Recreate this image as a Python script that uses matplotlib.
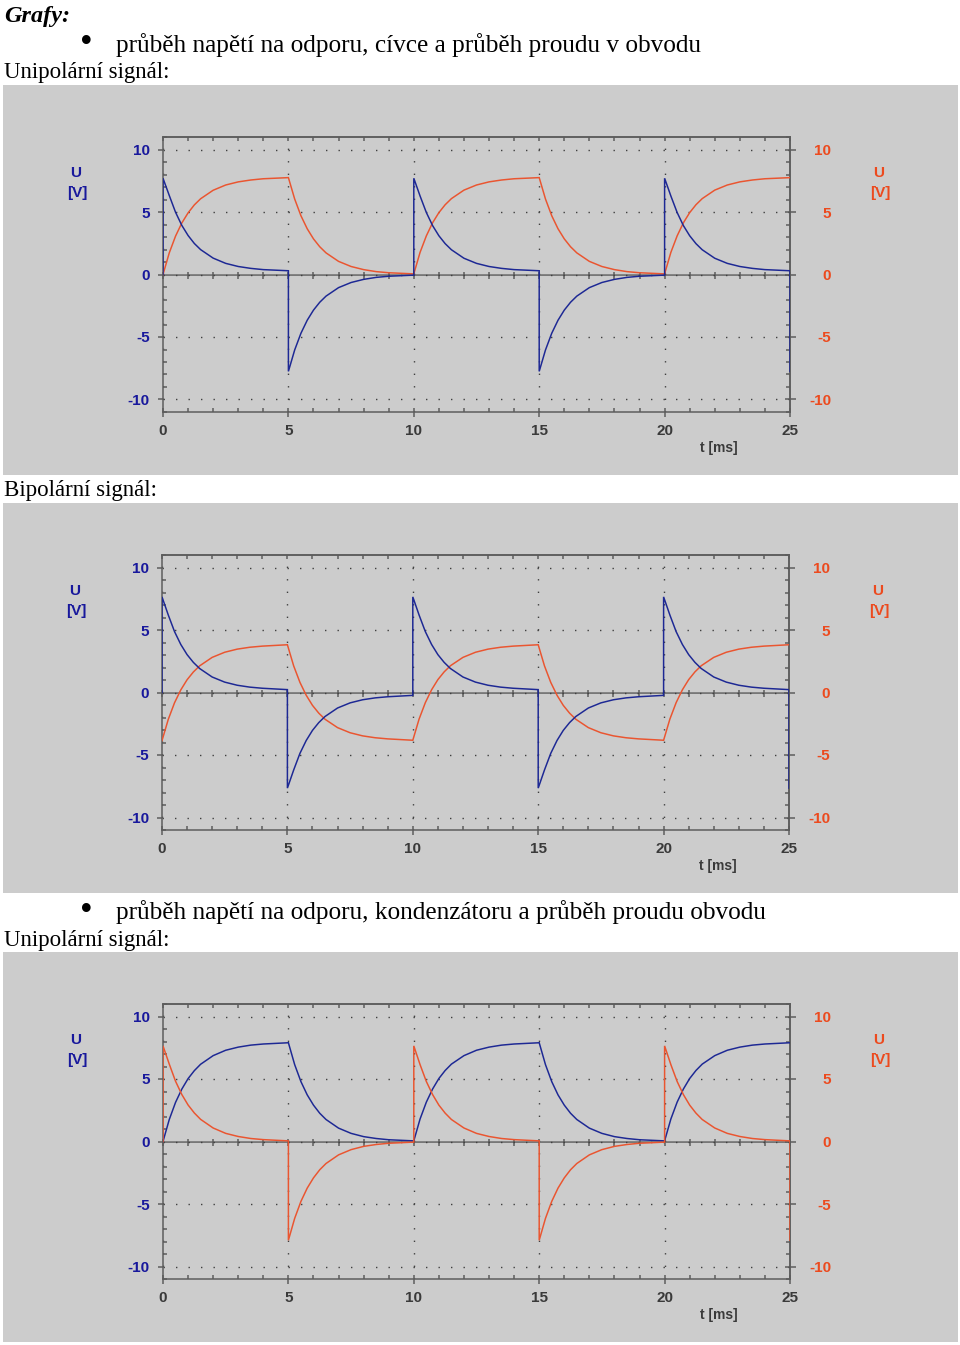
import matplotlib
matplotlib.use('Agg')
import matplotlib.pyplot as plt
from matplotlib.patches import Rectangle
from matplotlib.ticker import MultipleLocator

W, H, DPI = 960, 1345, 100
PT = 72.0 / DPI  # points per pixel

# ---------------- data ----------------
t_ms = [0,
        0, 0.25, 0.5, 0.75, 1, 1.25, 1.5, 2, 2.5, 3, 3.5, 4, 5,
        5, 5.25, 5.5, 5.75, 6, 6.25, 6.5, 7, 7.5, 8, 8.5, 9, 10,
        10, 10.25, 10.5, 10.75, 11, 11.25, 11.5, 12, 12.5, 13, 13.5, 14, 15,
        15, 15.25, 15.5, 15.75, 16, 16.25, 16.5, 17, 17.5, 18, 18.5, 19, 20,
        20, 20.25, 20.5, 20.75, 21, 21.25, 21.5, 22, 22.5, 23, 23.5, 24, 25,
        25]

# RL circuit, unipolar signal
rl_uni_resistor = [0.00,
                   0.00, 1.73, 3.07, 4.12, 4.93, 5.57, 6.06, 6.74, 7.16, 7.41, 7.56, 7.66, 7.75,
                   7.75, 6.04, 4.70, 3.66, 2.85, 2.22, 1.73, 1.05, 0.64, 0.39, 0.23, 0.14, 0.05,
                   0.05, 1.77, 3.09, 4.14, 4.95, 5.58, 6.07, 6.75, 7.16, 7.41, 7.56, 7.66, 7.75,
                   7.75, 6.04, 4.70, 3.66, 2.85, 2.22, 1.73, 1.05, 0.64, 0.39, 0.23, 0.14, 0.05,
                   0.05, 1.77, 3.09, 4.14, 4.95, 5.58, 6.07, 6.75, 7.16, 7.41, 7.56, 7.66, 7.75,
                   7.75]
rl_uni_coil = [0.00,
               7.70, 6.32, 4.98, 3.93, 3.12, 2.48, 1.99, 1.31, 0.89, 0.64, 0.49, 0.39, 0.30,
               -7.75, -6.04, -4.70, -3.66, -2.85, -2.22, -1.73, -1.05, -0.64, -0.39, -0.23, -0.14, -0.05,
               7.70, 6.28, 4.96, 3.91, 3.10, 2.47, 1.98, 1.30, 0.89, 0.64, 0.49, 0.39, 0.30,
               -7.75, -6.04, -4.70, -3.66, -2.85, -2.22, -1.73, -1.05, -0.64, -0.39, -0.23, -0.14, -0.05,
               7.70, 6.28, 4.96, 3.91, 3.10, 2.47, 1.98, 1.30, 0.89, 0.64, 0.49, 0.39, 0.30,
               -7.75]

# RL circuit, bipolar signal
rl_bi_resistor = [-3.85,
                  -3.85, -2.15, -0.82, 0.21, 1.02, 1.64, 2.13, 2.81, 3.22, 3.47, 3.62, 3.71, 3.82,
                  3.82, 2.13, 0.81, -0.22, -1.03, -1.65, -2.14, -2.81, -3.22, -3.47, -3.62, -3.71, -3.82,
                  -3.82, -2.13, -0.81, 0.22, 1.03, 1.65, 2.14, 2.81, 3.22, 3.47, 3.62, 3.71, 3.82,
                  3.82, 2.13, 0.81, -0.22, -1.03, -1.65, -2.14, -2.81, -3.22, -3.47, -3.62, -3.71, -3.82,
                  -3.82, -2.13, -0.81, 0.22, 1.03, 1.65, 2.14, 2.81, 3.22, 3.47, 3.62, 3.71, 3.82,
                  3.82]
rl_bi_coil = [0.00,
              7.65, 6.20, 4.87, 3.84, 3.03, 2.41, 1.92, 1.24, 0.83, 0.58, 0.43, 0.34, 0.23,
              -7.65, -6.20, -4.87, -3.84, -3.03, -2.41, -1.92, -1.24, -0.83, -0.58, -0.43, -0.34, -0.23,
              7.65, 6.20, 4.87, 3.84, 3.03, 2.41, 1.92, 1.24, 0.83, 0.58, 0.43, 0.34, 0.23,
              -7.65, -6.20, -4.87, -3.84, -3.03, -2.41, -1.92, -1.24, -0.83, -0.58, -0.43, -0.34, -0.23,
              7.65, 6.20, 4.87, 3.84, 3.03, 2.41, 1.92, 1.24, 0.83, 0.58, 0.43, 0.34, 0.23,
              -7.65]

# RC circuit, unipolar signal
rc_uni_capacitor = [0.00,
                    0.00, 1.76, 3.13, 4.19, 5.03, 5.67, 6.18, 6.87, 7.30, 7.55, 7.71, 7.80, 7.90,
                    7.90, 6.15, 4.79, 3.73, 2.91, 2.26, 1.76, 1.07, 0.65, 0.39, 0.24, 0.14, 0.05,
                    0.05, 1.80, 3.15, 4.20, 5.04, 5.68, 6.19, 6.87, 7.30, 7.55, 7.71, 7.80, 7.90,
                    7.90, 6.15, 4.79, 3.73, 2.91, 2.26, 1.76, 1.07, 0.65, 0.39, 0.24, 0.14, 0.05,
                    0.05, 1.80, 3.15, 4.20, 5.04, 5.68, 6.19, 6.87, 7.30, 7.55, 7.71, 7.80, 7.90,
                    7.90]
rc_uni_resistor = [0.00,
                   7.65, 6.19, 4.82, 3.76, 2.92, 2.28, 1.77, 1.08, 0.65, 0.40, 0.24, 0.15, 0.05,
                   -7.90, -6.15, -4.79, -3.73, -2.91, -2.26, -1.76, -1.07, -0.65, -0.39, -0.24, -0.14, -0.05,
                   7.65, 6.15, 4.80, 3.75, 2.91, 2.27, 1.76, 1.08, 0.65, 0.40, 0.24, 0.15, 0.05,
                   -7.90, -6.15, -4.79, -3.73, -2.91, -2.26, -1.76, -1.07, -0.65, -0.39, -0.24, -0.14, -0.05,
                   7.65, 6.15, 4.80, 3.75, 2.91, 2.27, 1.76, 1.08, 0.65, 0.40, 0.24, 0.15, 0.05,
                   -7.90]

x_ticks = [0, 5, 10, 15, 20, 25]
y_ticks = [-10, -5, 0, 5, 10]
x_label = 't [ms]'
y_label_top = 'U'
y_label_bottom = '[V]'

# ---------------- style ----------------
PANEL_BG = '#cccccc'
AXC = '#5c5c5c'
GRIDC = '#404040'
BLUE_LINE = '#1d2894'
RED_LINE = '#ea5530'
BLUE_TXT = '#18189c'
RED_TXT = '#ec4a1e'
XT = '#3a3a3a'

plt.rcParams['font.family'] = ['Liberation Sans', 'DejaVu Sans']
plt.rcParams['font.weight'] = 'bold'
plt.rcParams['axes.unicode_minus'] = False

fig = plt.figure(figsize=(W / DPI, H / DPI), dpi=DPI, facecolor='white')


def fx(x):
    return x / W


def fy(y):
    return 1 - y / H


# gray panels
for (x0, y0, x1, y1) in [(3, 85, 958, 475), (3, 503, 958, 893), (3, 952, 958, 1342)]:
    fig.add_artist(Rectangle((fx(x0), fy(y1)), (x1 - x0) / W, (y1 - y0) / H,
                             transform=fig.transFigure, facecolor=PANEL_BG,
                             edgecolor='none', zorder=0))

# page text
SERIF = ['Liberation Serif', 'DejaVu Serif']
fig.text(fx(4), fy(22), 'Grafy:', family=SERIF, weight='bold', style='italic',
         size=17.5, va='baseline', ha='left')
page_lines = [
    (116, 52, 'průběh napětí na odporu, cívce a průběh proudu v obvodu', 18.2),
    (4, 78, 'Unipolární signál:', 16.5),
    (4, 496, 'Bipolární signál:', 16.5),
    (116, 919, 'průběh napětí na odporu, kondenzátoru a průběh proudu obvodu', 18.2),
    (4, 946, 'Unipolární signál:', 16.5),
]
for x, y, s, sz in page_lines:
    fig.text(fx(x), fy(y), s, family=SERIF, weight='normal', size=sz,
             va='baseline', ha='left', color='black')
for y in (44, 911):
    fig.text(fx(86), fy(y), '\u2022', family=SERIF, weight='normal', size=26,
             va='center', ha='center', color='black')


def scope(frame, series):
    l, t, r, b = frame
    ax = fig.add_axes([fx(l), fy(b), (r - l) / W, (b - t) / H])
    ax.patch.set_alpha(0)
    ax.set_xlim(0, 25)
    ax.set_ylim(-11, 11)
    ax.set_xticks(x_ticks)
    ax.set_yticks(y_ticks)
    ax.xaxis.set_minor_locator(MultipleLocator(1))
    ax.yaxis.set_minor_locator(MultipleLocator(1))
    ax.grid(True, which='major', color=GRIDC, lw=1.0, ls=(0, (1, 8)))
    ax.set_axisbelow(True)
    for s in ax.spines.values():
        s.set_color(AXC)
        s.set_linewidth(1.5 * PT)
    ax.tick_params(axis='x', which='both', top=False, bottom=True, color=AXC,
                   width=1.5 * PT, labelcolor=XT, labelsize=11, pad=7.5 * PT)
    ax.tick_params(axis='x', which='major', direction='inout', length=9 * PT)
    ax.tick_params(axis='x', which='minor', direction='in', length=4 * PT)
    ax.tick_params(axis='y', which='both', left=True, right=False, color=AXC,
                   width=1.5 * PT, labelcolor=BLUE_TXT, labelsize=11, pad=8 * PT)
    ax.tick_params(axis='y', which='major', direction='out', length=5 * PT)
    ax.tick_params(axis='y', which='minor', direction='in', length=4 * PT)

    # zero line with cross ticks
    z = ax.secondary_xaxis(0, transform=ax.transData)
    z.xaxis.set_major_locator(MultipleLocator(1))
    z.tick_params(direction='inout', length=7 * PT, width=1.5 * PT, color=AXC,
                  labeltop=False, labelbottom=False)
    for s in z.spines.values():
        s.set_color(AXC)
        s.set_linewidth(1.5 * PT)

    # top ticks
    tp = ax.secondary_xaxis('top')
    tp.xaxis.set_major_locator(MultipleLocator(1))
    tp.tick_params(direction='in', length=4 * PT, width=1.5 * PT, color=AXC,
                   labeltop=False, labelbottom=False)
    for s in tp.spines.values():
        s.set_color(AXC)
        s.set_linewidth(1.5 * PT)

    # right axis
    rt = ax.secondary_yaxis('right')
    rt.set_yticks(y_ticks)
    rt.yaxis.set_minor_locator(MultipleLocator(1))
    rt.tick_params(which='both', color=AXC, width=1.5 * PT, labelcolor=RED_TXT,
                   labelsize=11)
    rt.tick_params(which='major', direction='inout', length=11 * PT, pad=35.5 * PT)
    rt.tick_params(which='minor', direction='in', length=4 * PT)
    for s in rt.spines.values():
        s.set_color(AXC)
        s.set_linewidth(1.5 * PT)
    for lab in rt.get_yticklabels():
        lab.set_ha('right')

    for vals, col in series:
        ax.plot(t_ms, vals, color=col, lw=1.5 * PT, zorder=3, solid_joinstyle='miter')

    # axis labels
    fig.text(fx(l - 87), fy(t + 36), y_label_top, color=BLUE_TXT, ha='center', va='center', size=11)
    fig.text(fx(l - 86), fy(t + 56), y_label_bottom, color=BLUE_TXT, ha='center', va='center', size=11)
    fig.text(fx(r + 89), fy(t + 36), y_label_top, color=RED_TXT, ha='center', va='center', size=11)
    fig.text(fx(r + 90), fy(t + 56), y_label_bottom, color=RED_TXT, ha='center', va='center', size=11)
    fig.text(fx(r - 71), fy(t + 311), x_label, color=XT, ha='center', va='center', size=10)
    return ax


scope((163, 137, 790, 412), [(rl_uni_resistor, RED_LINE), (rl_uni_coil, BLUE_LINE)])
scope((162, 555, 789, 830), [(rl_bi_resistor, RED_LINE), (rl_bi_coil, BLUE_LINE)])
scope((163, 1004, 790, 1279), [(rc_uni_capacitor, BLUE_LINE), (rc_uni_resistor, RED_LINE)])

fig.savefig('out.png', dpi=DPI, facecolor='white')
